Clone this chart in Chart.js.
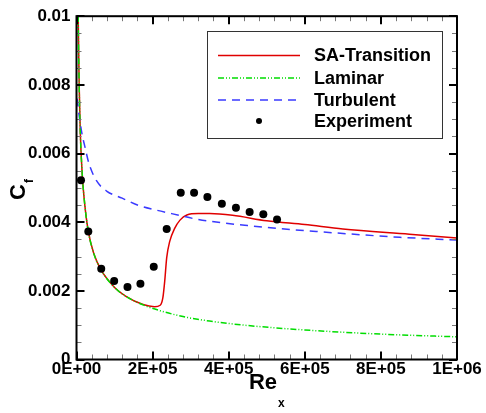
<!DOCTYPE html>
<html><head><meta charset="utf-8">
<script src="https://cdn.jsdelivr.net/npm/chart.js@4"></script>
<style>html,body{margin:0;padding:0;background:#fff;}#wrap{width:486px;height:413px;}</style>
</head><body><div id="wrap"><canvas id="c" width="486" height="413"></canvas></div>
<script>
// ---- data ----
const saRe = [4400, 7000, 10000, 15000, 20000, 30000, 45000, 65000, 100000, 130000, 175000, 205000, 220000, 227000, 232000, 237000, 245000, 258000, 272000, 290000, 320000, 350000, 410000, 500000, 600000, 700000, 875000, 1000000];
const saCf = [0.0100, 0.0080, 0.0066, 0.0054, 0.0047, 0.0038, 0.0031, 0.0026, 0.0021, 0.00184, 0.00160, 0.00154, 0.00158, 0.00180, 0.00230, 0.00296, 0.00344, 0.00382, 0.00406, 0.00421, 0.00425, 0.00425, 0.00420, 0.00404, 0.00393, 0.00380, 0.00365, 0.00354];

const lamRe = [4400, 7000, 10000, 15000, 20000, 30000, 45000, 65000, 100000, 130000, 175000, 220000, 280000, 350000, 450000, 600000, 800000, 1000000];
const lamCf = [0.0100, 0.0080, 0.0066, 0.0054, 0.0047, 0.0038, 0.0031, 0.0026, 0.0021, 0.00184, 0.00159, 0.00142, 0.00125, 0.00112, 0.00099, 0.00086, 0.00074, 0.00066];

const turbRe = [1500, 7000, 14000, 22000, 33000, 53000, 80000, 120000, 160000, 210000, 270000, 310000, 450000, 630000, 850000, 1000000];
const turbCf = [0.0076, 0.0071, 0.0066, 0.0062, 0.0057, 0.0052, 0.0049, 0.0047, 0.0045, 0.00435, 0.0042, 0.0041, 0.0039, 0.00373, 0.00356, 0.00348];

const expRe = [11800, 31000, 65000, 99000, 134000, 168000, 203000, 237000, 274000, 309000, 344000, 382000, 419000, 455000, 491000, 527000];
const expCf = [0.00522, 0.00373, 0.00264, 0.00229, 0.00211, 0.00221, 0.00270, 0.00380, 0.00486, 0.00486, 0.00473, 0.00454, 0.00442, 0.00430, 0.00423, 0.00408];

const xTickLabels = ['0E+00', '2E+05', '4E+05', '6E+05', '8E+05', '1E+06'];
const yTickLabels = ['0', '0.002', '0.004', '0.006', '0.008', '0.01'];
const seriesNames = ['SA-Transition', 'Laminar', 'Turbulent', 'Experiment'];

// ---- styles ----
const FONT = "'Liberation Sans', Arial, Helvetica, sans-serif";
const RED = '#e00000', GREEN = '#00dd00', BLUE = '#3a3aff';
const toXY = (xs, ys) => xs.map((v, i) => ({x: v, y: ys[i]}));

const frame = {
  id: 'frame',
  afterDatasetsDraw(chart) {
    const {ctx, chartArea: a, scales: {x, y}} = chart;
    ctx.save();
    // minor ticks
    ctx.strokeStyle = '#777'; ctx.lineWidth = 1;
    ctx.beginPath();
    for (let v = 0; v <= 1e6 + 1; v += 4e4) {
      const px = Math.round(x.getPixelForValue(v)) + 0.5;
      ctx.moveTo(px, a.bottom); ctx.lineTo(px, a.bottom - 5);
      ctx.moveTo(px, a.top); ctx.lineTo(px, a.top + 5);
    }
    for (let v = 0; v <= 0.01 + 1e-9; v += 0.0005) {
      const py = Math.round(y.getPixelForValue(v)) + 0.5;
      ctx.moveTo(a.left, py); ctx.lineTo(a.left + 5, py);
      ctx.moveTo(a.right, py); ctx.lineTo(a.right - 5, py);
    }
    ctx.stroke();
    // major ticks
    ctx.strokeStyle = '#000'; ctx.lineWidth = 2;
    ctx.beginPath();
    for (let v = 0; v <= 1e6 + 1; v += 2e5) {
      const px = Math.round(x.getPixelForValue(v));
      ctx.moveTo(px, a.bottom); ctx.lineTo(px, a.bottom - 8);
      ctx.moveTo(px, a.top); ctx.lineTo(px, a.top + 8);
    }
    for (let v = 0; v <= 0.01 + 1e-9; v += 0.002) {
      const py = Math.round(y.getPixelForValue(v));
      ctx.moveTo(a.left, py); ctx.lineTo(a.left + 8, py);
      ctx.moveTo(a.right, py); ctx.lineTo(a.right - 8, py);
    }
    ctx.stroke();
    // box
    ctx.lineWidth = 2;
    ctx.strokeRect(a.left, a.top, a.right - a.left, a.bottom - a.top);

    // legend
    const L = {left: 207, top: 31, right: 442, bottom: 138};
    ctx.fillStyle = '#fff';
    ctx.fillRect(L.left, L.top, L.right - L.left, L.bottom - L.top);
    ctx.lineWidth = 1; ctx.strokeStyle = '#333';
    ctx.strokeRect(L.left + 0.5, L.top + 0.5, L.right - L.left, L.bottom - L.top);
    const rows = [55.5, 78, 100, 121];
    const styles = [
      {c: RED, d: []}, {c: GREEN, d: [6, 2, 1, 2, 1, 2]}, {c: BLUE, d: [8, 6]}, null
    ];
    ctx.font = 'bold 18px ' + FONT;
    ctx.textBaseline = 'middle'; ctx.textAlign = 'left';
    rows.forEach((ry, i) => {
      const s = styles[i];
      if (s) {
        ctx.strokeStyle = s.c; ctx.lineWidth = 1.5; ctx.setLineDash(s.d);
        ctx.beginPath(); ctx.moveTo(218, ry); ctx.lineTo(300, ry); ctx.stroke();
        ctx.setLineDash([]);
      } else {
        ctx.fillStyle = '#000';
        ctx.beginPath(); ctx.arc(259, ry, 3, 0, Math.PI * 2); ctx.fill();
      }
      ctx.fillStyle = '#000';
      ctx.fillText(seriesNames[i], 314, ry + 1);
    });

    // axis titles
    ctx.fillStyle = '#000';
    ctx.textAlign = 'left'; ctx.textBaseline = 'alphabetic';
    ctx.font = 'bold 22px ' + FONT;
    const reW = ctx.measureText('Re').width;
    const rx = 266 - reW / 2 - 3;
    ctx.fillText('Re', rx, 389);
    ctx.font = 'bold 12px ' + FONT;
    ctx.fillText('x', rx + reW + 1, 407);

    ctx.save();
    ctx.translate(25, 200);
    ctx.rotate(-Math.PI / 2);
    ctx.font = 'bold 22px ' + FONT;
    ctx.fillText('C', 0, 0);
    const cW = ctx.measureText('C').width;
    ctx.font = 'bold 12px ' + FONT;
    ctx.fillText('f', cW + 1, 8);
    ctx.restore();
    ctx.restore();
  }
};

new Chart(document.getElementById('c'), {
  type: 'line',
  data: {
    datasets: [
      {label: seriesNames[3], type: 'scatter', data: toXY(expRe, expCf), showLine: false,
       pointRadius: 4, pointHoverRadius: 4, backgroundColor: '#000', borderColor: '#000', borderWidth: 0, order: 0},
      {label: seriesNames[1], data: toXY(lamRe, lamCf), borderColor: GREEN, borderWidth: 1.5,
       borderDash: [6, 2, 1, 2, 1, 2], pointRadius: 0, fill: false, cubicInterpolationMode: 'monotone', order: 1},
      {label: seriesNames[2], data: toXY(turbRe, turbCf), borderColor: BLUE, borderWidth: 1.5,
       borderDash: [8, 6], pointRadius: 0, fill: false, cubicInterpolationMode: 'monotone', order: 2},
      {label: seriesNames[0], data: toXY(saRe, saCf), borderColor: RED, borderWidth: 1.5,
       pointRadius: 0, fill: false, cubicInterpolationMode: 'monotone', order: 3}
    ]
  },
  options: {
    responsive: false, animation: false, maintainAspectRatio: false,
    layout: {padding: {left: 0, top: 12, right: 29, bottom: 0}},
    plugins: {legend: {display: false}, tooltip: {enabled: false}},
    scales: {
      x: {
        type: 'linear', min: 0, max: 1e6,
        grid: {display: false, drawTicks: false}, border: {display: false},
        afterFit: s => { s.height = 53.5; },
        ticks: {
          stepSize: 2e5, autoSkip: false, maxRotation: 0, padding: 0, color: '#000',
          font: {family: FONT, size: 17, weight: 'bold'},
          callback: (v, i) => xTickLabels[i]
        }
      },
      y: {
        type: 'linear', min: 0, max: 0.01,
        grid: {display: false, drawTicks: false}, border: {display: false},
        afterFit: s => { s.width = 76.5; },
        ticks: {
          stepSize: 0.002, autoSkip: false, padding: 6, color: '#000',
          font: {family: FONT, size: 17, weight: 'bold'},
          callback: (v, i) => yTickLabels[i]
        }
      }
    }
  },
  plugins: [frame]
});
</script>
</body></html>
